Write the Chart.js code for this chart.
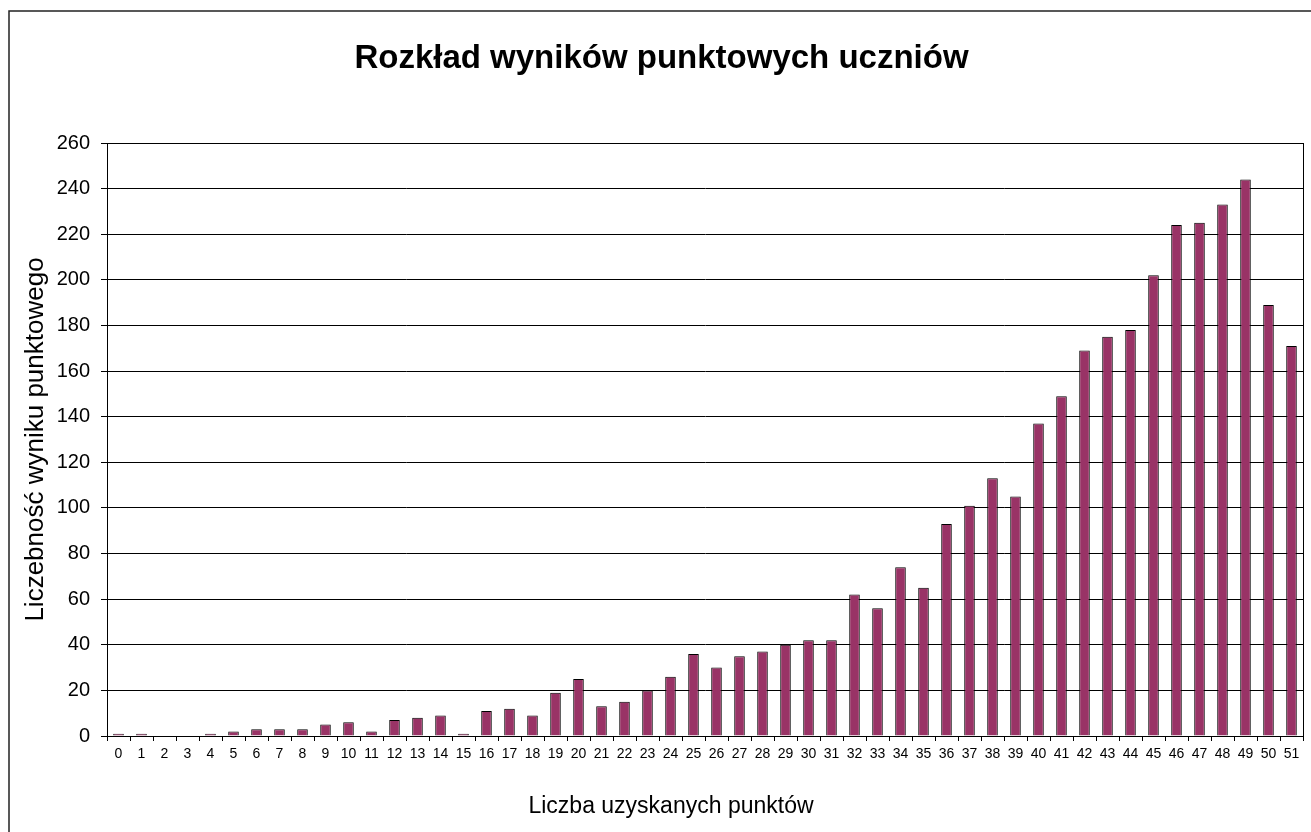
<!DOCTYPE html>
<html lang="pl">
<head>
<meta charset="utf-8">
<title>Rozkład wyników punktowych uczniów</title>
<script src="https://cdn.jsdelivr.net/npm/chart.js@4.4.1/dist/chart.umd.min.js"></script>
<style>
  html, body { margin: 0; padding: 0; background: #ffffff; }
  canvas { display: block; }
</style>
</head>
<body>
<canvas id="myBarChart" width="1311" height="832"></canvas>
<script>
// Dane wykresu
const points = ["0", "1", "2", "3", "4", "5", "6", "7", "8", "9", "10", "11", "12", "13", "14", "15", "16", "17", "18", "19", "20", "21", "22", "23", "24", "25", "26", "27", "28", "29", "30", "31", "32", "33", "34", "35", "36", "37", "38", "39", "40", "41", "42", "43", "44", "45", "46", "47", "48", "49", "50", "51"];
const counts = [1, 1, 0, 0, 1, 2, 3, 3, 3, 5, 6, 2, 7, 8, 9, 1, 11, 12, 9, 19, 25, 13, 15, 20, 26, 36, 30, 35, 37, 40, 42, 42, 62, 56, 74, 65, 93, 101, 113, 105, 137, 149, 169, 175, 178, 202, 224, 225, 233, 244, 189, 171];
const yMax = 260;
const yStep = 20;

const chartTitle = "Rozkład wyników punktowych uczniów";
const xTitle = "Liczba uzyskanych punktów";
const yTitle = "Liczebność wyniku punktowego";

const fontFamily = "'Liberation Sans', Arial, sans-serif";

// ramka wykresu, ramka obszaru kreślenia i tytuł osi X
const framePlugin = {
  id: "frame",
  beforeDraw(chart) {
    const c = chart.ctx;
    c.save();
    c.fillStyle = "#ffffff";
    c.fillRect(0, 0, chart.width, chart.height);
    c.strokeStyle = "#222222";
    c.lineWidth = 1.5;
    c.strokeRect(9, 11, chart.width + 10, chart.height + 10);
    c.restore();
  },
  afterDraw(chart) {
    const a = chart.chartArea;
    const c = chart.ctx;
    c.save();
    c.strokeStyle = "#000000";
    c.lineWidth = 1;
    c.strokeRect(Math.round(a.left) + 0.5, Math.round(a.top) + 0.5, Math.round(a.right - a.left), Math.round(a.bottom - a.top));

    // tytuł osi X jest wyśrodkowany względem całego wykresu, nie obszaru kreślenia
    c.fillStyle = "#000000";
    c.font = "23px " + fontFamily;
    c.textAlign = "center";
    c.textBaseline = "middle";
    c.fillText(xTitle, 671, 807);
    c.restore();
  }
};

const ctx = document.getElementById("myBarChart").getContext("2d");

const myBarChart = new Chart(ctx, {
  type: "bar",
  data: {
    labels: points,
    datasets: [
      {
        label: "Liczebność",
        data: counts,
        backgroundColor: "#993366",
        borderColor: "#000000",
        borderWidth: 1,
        barPercentage: 0.46,
        categoryPercentage: 1.0,
      },
    ],
  },
  options: {
    responsive: false,
    animation: false,
    layout: {
      padding: { left: 20, right: 8, top: 0, bottom: 11 },
    },
    plugins: {
      legend: { display: false },
      tooltip: { enabled: false },
      title: {
        display: true,
        text: chartTitle,
        color: "#000000",
        font: { family: fontFamily, size: 33, weight: "bold" },
        padding: { top: 39, bottom: 64.4 },
      },
    },
    scales: {
      x: {
        offset: true,
        grid: {
          offset: true,
          drawOnChartArea: false,
          drawTicks: true,
          tickLength: 5,
          tickColor: "#000000",
        },
        border: { display: true, color: "#000000", width: 1 },
        ticks: {
          color: "#000000",
          font: { family: fontFamily, size: 14 },
          padding: 5,
          maxRotation: 0,
          autoSkip: false,
        },
        title: { display: false },
        afterFit(scale) {
          scale.height = 85;
        },
      },
      y: {
        min: 0,
        max: yMax,
        grid: {
          color: "#000000",
          lineWidth: 1,
          drawTicks: true,
          tickLength: 6,
          tickColor: "#000000",
        },
        border: { display: true, color: "#000000", width: 1 },
        ticks: {
          stepSize: yStep,
          color: "#000000",
          font: { family: fontFamily, size: 20 },
          padding: 11,
        },
        title: {
          display: true,
          text: yTitle,
          color: "#000000",
          font: { family: fontFamily, size: 26 },
          padding: { top: 0, bottom: 0 },
        },
        afterFit(scale) {
          scale.width = 87;
        },
      },
    },
  },
  plugins: [framePlugin],
});
</script>
</body>
</html>
